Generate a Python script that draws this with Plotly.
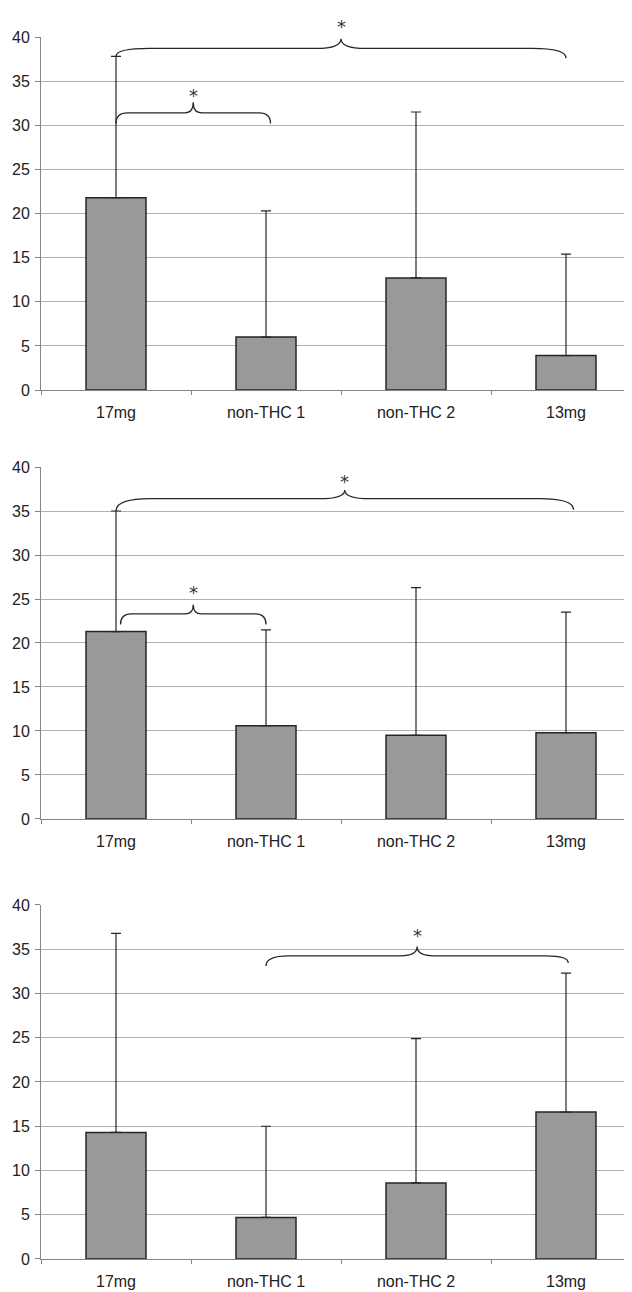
import plotly.graph_objects as go
from plotly.subplots import make_subplots

# ---- data ----
categories = ["17mg", "non-THC 1", "non-THC 2", "13mg"]
cat_pos = [0, 1, 2, 3]
boundaries = [-0.5, 0.5, 1.5, 2.5, 3.5]

means_1 = [21.8, 6.0, 12.7, 3.9]
upper_1 = [37.8, 20.3, 31.5, 15.4]

means_2 = [21.3, 10.6, 9.5, 9.8]
upper_2 = [35.0, 21.5, 26.3, 23.5]

means_3 = [14.3, 4.7, 8.6, 16.6]
upper_3 = [36.8, 15.0, 24.9, 32.3]

y_ticks = [0, 5, 10, 15, 20, 25, 30, 35, 40]
y_max = 40

# significance braces: (x_start, x_end, y_end_left, y_end_right, y_line, y_tip, y_star)
braces_1 = [(0.0, 3.0, 37.8, 37.6, 38.7, 39.8, 41.7),
            (0.0, 1.03, 30.2, 30.2, 31.4, 32.6, 33.9)]
braces_2 = [(0.0, 3.05, 35.0, 35.15, 36.4, 37.4, 38.9),
            (0.03, 1.0, 22.1, 22.1, 23.3, 24.35, 26.3)]
braces_3 = [(1.0, 3.015, 33.1, 33.45, 34.25, 35.3, 37.1)]

panels = [(means_1, upper_1, braces_1), (means_2, upper_2, braces_2), (means_3, upper_3, braces_3)]

FONT = "Liberation Sans, Arial, sans-serif"
TXT = "#222222"
BAR_FILL = "#999999"
EDGE = "#262626"
AXIS = "#858585"
GRID = "#b0b0b0"

fig = make_subplots(rows=3, cols=1)
domains = [[0.7111, 1.0], [0.3601, 0.6481], [0.0, 0.2897]]

for i, (means, upper, braces) in enumerate(panels, start=1):
    fig.add_trace(go.Bar(
        x=cat_pos, y=means, width=0.4,
        marker=dict(color=BAR_FILL, line=dict(color=EDGE, width=1.5)),
        error_y=dict(type="data", symmetric=False,
                     array=[u - m for u, m in zip(upper, means)],
                     arrayminus=[0] * len(means),
                     color=EDGE, thickness=1.2, width=5),
        showlegend=False, hoverinfo="skip"), row=i, col=1)

    xref = "x" if i == 1 else f"x{i}"
    yref = "y" if i == 1 else f"y{i}"
    d0, d1 = domains[i - 1]
    for (x0, x1, ye0, ye1, yl, yt, ys) in braces:
        L = x1 - x0
        dc = 0.075 * L
        dm = 0.055 * L
        xm = (x0 + x1) / 2
        path = (f"M {x0},{ye0} Q {x0},{yl} {x0 + dc},{yl} "
                f"L {xm - dm},{yl} Q {xm},{yl} {xm},{yt} "
                f"Q {xm},{yl} {xm + dm},{yl} "
                f"L {x1 - dc},{yl} Q {x1},{yl} {x1},{ye1}")
        fig.add_shape(type="path", path=path, xref=xref, yref=yref,
                      line=dict(color=EDGE, width=1.3))
        fig.add_annotation(x=xm, y=d0 + (ys / y_max) * (d1 - d0), xref=xref, yref="paper",
                           text="*", showarrow=False, yanchor="middle",
                           yshift=-5,
                           font=dict(size=18, color="#333333", family="DejaVu Sans"))

    fig.update_xaxes(row=i, col=1, range=[-0.5, 3.44],
                     tickmode="array", tickvals=cat_pos, ticktext=categories,
                     ticks="", showgrid=False, zeroline=False,
                     showline=True, linecolor=AXIS, linewidth=1,
                     ticklabelstandoff=8, automargin=False,
                     tickfont=dict(size=16, color=TXT, family=FONT),
                     minor=dict(tickmode="array", tickvals=boundaries, ticks="outside",
                                ticklen=4, tickcolor=AXIS, tickwidth=1, showgrid=False))
    fig.update_yaxes(row=i, col=1, range=[0, y_max], domain=domains[i - 1],
                     tickmode="array", tickvals=y_ticks,
                     showgrid=True, gridcolor=GRID, gridwidth=1,
                     zeroline=False, showline=True, linecolor=AXIS, linewidth=1,
                     ticks="outside", ticklen=5, tickcolor=AXIS,
                     ticklabelstandoff=2, automargin=False,
                     tickfont=dict(size=16, color=TXT, family=FONT))

# page body adds an 8px margin, so the figure is shrunk by that amount
fig.update_layout(width=624, height=1284,
                  margin=dict(l=33, r=0, t=29, b=33),
                  plot_bgcolor="white", paper_bgcolor="white",
                  font=dict(family=FONT, color=TXT), bargap=0.6)

fig.write_html("out.html")
